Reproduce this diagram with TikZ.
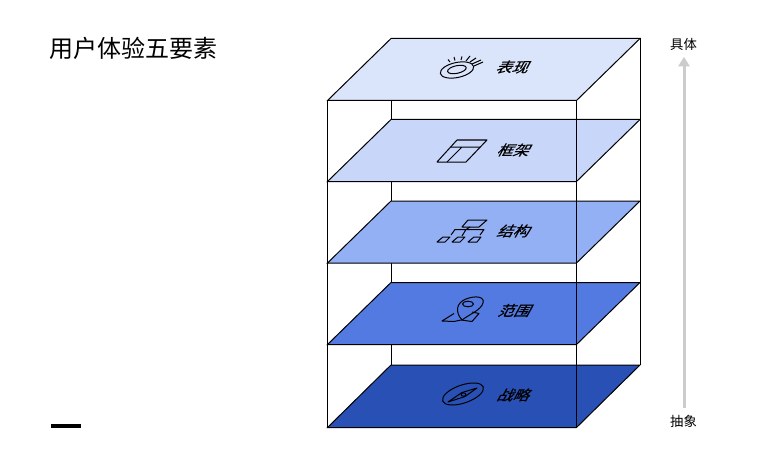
\documentclass[tikz,border=0pt]{standalone}
\usepackage{fontspec}
\newfontfamily\cjk{Noto Sans CJK SC}
\newfontfamily\cjkheavy[FakeBold=0.6]{Noto Sans CJK SC}
\definecolor{pa}{HTML}{DAE4FA}
\definecolor{pb}{HTML}{C7D6F9}
\definecolor{pc}{HTML}{94B0F5}
\definecolor{pd}{HTML}{527AE0}
\definecolor{pe}{HTML}{2850B5}
\definecolor{arrowgrey}{HTML}{CCCCCC}
\tikzset{
  edge/.style={draw=black,line width=0.75pt},
  icon/.style={draw=black,line width=0.75pt,line join=round},
  planelabel/.style={font=\cjkheavy\fontsize{12pt}{12pt}\selectfont,xslant=0.55,yscale=0.88,transform shape,inner sep=0pt,text=black},
  sidelabel/.style={font=\cjk\fontsize{10pt}{10pt}\selectfont,inner sep=0pt,text=black}
}
\newcommand{\plane}[3]{%
  \path[edge,fill=#1] (327.5,#3) -- (391,#2) -- (640,#2) -- (576.5,#3) -- cycle;}
\begin{document}
\begin{tikzpicture}[x=0.75pt,y=-0.75pt]
\useasboundingbox (0,0) rectangle (768,460);
\fill[white] (0,0) rectangle (768,460);
% title and bar
\node[anchor=west,inner sep=0pt,font=\cjk\fontsize{18pt}{18pt}\selectfont] (title) at (49.5,48) {用户体验五要素};
\fill[black] (51,424) rectangle (81,427.5);
% back verticals
\draw[edge] (391,100) -- (391,119.5) (391,181) -- (391,201) (391,263) -- (391,282.5) (391,344) -- (391,365);
% planes
\plane{pa}{38.5}{100.5}
\plane{pb}{119.5}{181.5}
\plane{pc}{201}{263}
\plane{pd}{282.5}{344.5}
\plane{pe}{365}{427.5}
% front and right verticals
\draw[edge] (327.5,100.5) -- (327.5,427.5) (576.5,100.5) -- (576.5,427.5) (640,38.5) -- (640,365);
% labels
\node[planelabel] (l1) at (514,67) {表现};
\node[planelabel] (l2) at (515,150) {框架};
\node[planelabel] (l3) at (515,231) {结构};
\node[planelabel] (l4) at (516,310.5) {范围};
\node[planelabel] (l5) at (515,395) {战略};
% eye icon
\draw[icon,rotate around={12:(457,70)}] (457,70) ellipse (17 and 7.5);
\draw[icon,rotate around={12:(457,70)}] (457,69.5) ellipse (9.5 and 3.8);
\draw[icon] (450,62) -- (448,59.5) (455,60.5) -- (454,57) (461,60) -- (462,56.5) (466,61) -- (470,56) (470,62) -- (476,58) (472,64) -- (481,60) (474,66) -- (483,62);
% frame icon
\draw[icon] (437,162) -- (466,162) -- (487,140) -- (457,140) -- cycle;
\draw[icon] (451,147) -- (480,147) (462,147) -- (447,162);
% structure icon
\draw[icon] (462,227) -- (479,227) -- (487,220) -- (468,220) -- cycle;
\draw[icon] (451,235) -- (455,229.5) -- (484,229.5) -- (480,235) (470,227) -- (466,229.5) -- (462,236);
\draw[icon] (437,242) -- (445,242) -- (450,237) -- (443,237) -- cycle;
\draw[icon] (452,242) -- (460,242) -- (465,237) -- (458,237) -- cycle;
\draw[icon] (468,242) -- (477,242) -- (481,237) -- (474,237) -- cycle;
% location icon
\draw[icon] (462,320) .. controls (455,312) and (456,303) .. (466,299) .. controls (476,295) and (485,297) .. (483,303) .. controls (481,310) and (470,314) .. cycle;
\draw[icon] (468,304) ellipse (5.5 and 2.8);
\draw[icon] (454,313.5) -- (442,321) -- (454,321.5) -- (461,320) -- (472,321.5) -- (479,313.5) -- (472,312);
% compass icon
\draw[icon,rotate around={19:(463,394)}] (463,394) ellipse (21.5 and 9);
\draw[icon] (448,402) -- (462,392.5) -- (477,388) -- (465,396.5) -- cycle;
\draw[icon] (463.5,394.5) ellipse (2.5 and 1.6);
% scale arrow
\draw[arrowgrey,line width=2.25pt] (684,66) -- (684,408);
\fill[arrowgrey] (684,57) -- (690,66.5) -- (678,66.5) -- cycle;
\node[sidelabel] (top) at (683.5,44) {具体};
\node[sidelabel] (bottom) at (683.5,421.5) {抽象};
\end{tikzpicture}
\end{document}
